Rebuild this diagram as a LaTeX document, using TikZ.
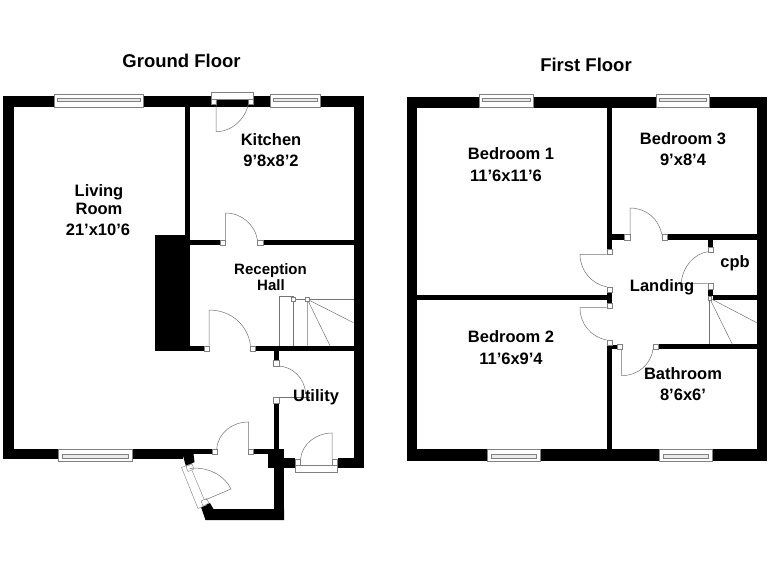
\documentclass[tikz,border=0pt]{standalone}
\usepackage{fontspec}
\setmainfont{Liberation Sans}
\tikzset{
  wall/.style={fill=black},
  leaf/.style={draw=black!55,line width=.5pt},
  jamb/.style={draw=black!50,fill=white,line width=.4pt},
  frame/.style={draw=black!50,fill=white,line width=.4pt},
  glass/.style={draw=black!50,fill=black!8,line width=.4pt},
  room/.style={font=\bfseries\fontsize{16.5}{18}\selectfont,inner sep=0pt,align=center},
  small/.style={font=\bfseries\fontsize{15}{17}\selectfont,inner sep=0pt,align=center},
  head/.style={font=\bfseries\fontsize{18.5}{20}\selectfont,inner sep=0pt}
}
\newcommand{\winTop}[2]{%
  \draw[frame] (#1,94.5) rectangle (#2,107.5);
  \draw[glass] (#1+3,98) rectangle (#2-3,101);}
\newcommand{\winBot}[2]{%
  \draw[frame] (#1,449.5) rectangle (#2,461.5);
  \draw[glass] (#1+4,454) rectangle (#2-4,458);}
\begin{document}
\begin{tikzpicture}[x=1pt,y=-1pt]
\useasboundingbox (0,0) rectangle (768,576);
\fill[white] (0,0) rectangle (768,576);
% ---------- ground floor walls
\fill[wall] (3,96) rectangle (364,107);
\fill[wall] (3,96) rectangle (13.5,459);
\fill[wall] (353.5,96) rectangle (364,468);
\fill[wall] (3,449) rectangle (183,459);
\fill[wall] (130,449) rectangle (212,454);
\fill[wall] (182.5,454) -- (193.5,454) -- (194.5,462) -- (186,466.5) -- cycle;
\fill[wall] (185,107) rectangle (190,350.7);
\fill[wall] (155,235.3) rectangle (190,350.7);
\fill[wall] (190,240) rectangle (220,245);
\fill[wall] (263,240) rectangle (353.5,245);
\fill[wall] (190,345.7) rectangle (204,350.7);
\fill[wall] (255,345.7) rectangle (353.5,350.7);
\fill[wall] (273.5,350.7) rectangle (279,360);
\fill[wall] (273.5,403) rectangle (279,449);
\fill[wall] (253,449) rectangle (268,454);
\fill[wall] (268,449) rectangle (284,468);
\fill[wall] (284,458) rectangle (295,468);
\fill[wall] (337.5,458) rectangle (364,468);
\fill[wall] (274,468) rectangle (284,520);
\fill[wall] (201,507) -- (210,503) -- (213.5,509) -- (284,509) -- (284,520) -- (205.5,520) -- cycle;
% ground windows
\winTop{54.5}{143}
\winTop{270}{320}
\winBot{58}{132}
% kitchen external door
\draw[frame] (211,92) rectangle (253,99);
\draw[jamb] (211,99) rectangle (216,104.5);
\draw[jamb] (248,99) rectangle (253,104.5);
\draw[leaf] (216,99) -- (216,131.7) .. controls (233,131.7) and (248,117) .. (249,99);
% kitchen / hall door
\draw[jamb] (220,240) rectangle (225.5,245);
\draw[jamb] (257.5,240) rectangle (263,245);
\draw[leaf] (225.5,240) -- (225.5,213) .. controls (242,213) and (255,225) .. (257.5,240);
% hall / living door
\draw[jamb] (204,345.7) rectangle (209,350.7);
\draw[jamb] (250.5,345.7) rectangle (255,350.7);
\draw[leaf] (209,345.7) -- (209,310) .. controls (231,310) and (248,325) .. (250.5,345.7);
% utility door
\draw[jamb] (273.5,360) rectangle (279,366);
\draw[jamb] (273.5,397.5) rectangle (279,403);
\draw[leaf] (279,397.5) -- (310,397.5);
\draw[leaf] (279,366) .. controls (293,367) and (304,378) .. (305.5,392);
% front door
\draw[jamb] (212,449) rectangle (216.7,454);
\draw[jamb] (248.5,449) rectangle (253,454);
\draw[leaf] (248.5,449) -- (248.5,422) .. controls (232,422) and (218,433) .. (216.7,449);
% utility external door
\draw[frame] (295,465.5) rectangle (337.5,472);
\draw[jamb] (295,459) rectangle (300.5,465.5);
\draw[jamb] (332,459) rectangle (337.5,465.5);
\draw[leaf] (332,459) -- (332,433) .. controls (316,433) and (302,444) .. (300.5,459);
% porch door
\draw[frame] (181.5,467.5) -- (189.5,464.5) -- (206.5,505) -- (198,508.5) -- cycle;
\draw[jamb] (186,466.5) -- (192,464) -- (194,469) -- (188,471.5) -- cycle;
\draw[jamb] (201,501) -- (206.5,498.5) -- (209,503) -- (203,506) -- cycle;
\draw[leaf] (205,500) -- (231,489) .. controls (225,476) and (208,466) .. (189.5,468.5);
% ground stairs
\draw[leaf] (279.3,345.7) -- (279.3,296) -- (293.3,296) -- (293.3,345.7);
\draw[leaf] (307.3,345.7) -- (307.3,299.3) -- (353.5,322.7);
\draw[leaf] (293.3,299.3) -- (353.5,299.3);
\draw[leaf] (307.3,299.3) -- (330,345.7);
\draw[jamb] (291.5,297.5) rectangle (295,301);
\draw[jamb] (305.5,297.5) rectangle (309,301);
% ---------- first floor walls
\fill[wall] (406.7,97.3) rectangle (767,107.7);
\fill[wall] (406.7,97.3) rectangle (417,460.7);
\fill[wall] (756.7,97.3) rectangle (767,460.7);
\fill[wall] (406.7,449.3) rectangle (767,460.7);
\fill[wall] (606.7,107.7) rectangle (612.3,249);
\fill[wall] (606.7,292) rectangle (612.3,302.7);
\fill[wall] (417,295) rectangle (612.3,300.3);
\fill[wall] (606.7,345) rectangle (612.3,449.3);
\fill[wall] (612.3,345) rectangle (617,349);
\fill[wall] (612.3,234.3) rectangle (624.3,240);
\fill[wall] (667,234.3) rectangle (756.7,240);
\fill[wall] (658,344.3) rectangle (756.7,349);
\fill[wall] (707.7,240) rectangle (713.3,246.7);
\fill[wall] (708,288.7) rectangle (713.3,296);
\fill[wall] (713.3,295) rectangle (756.7,300);
% first windows
\winTop{479}{533}
\winTop{655.7}{709}
\winBot{486.7}{540.5}
\winBot{659}{712.5}
% bed 3 door
\draw[jamb] (624.3,234.3) rectangle (630,240);
\draw[jamb] (661.7,234.3) rectangle (667,240);
\draw[leaf] (630,234.3) -- (630,208) .. controls (646,208) and (659,219) .. (661.7,234.3);
% bed 1 door
\draw[jamb] (606.7,249) rectangle (612.3,254.3);
\draw[jamb] (606.7,286.7) rectangle (612.3,292);
\draw[leaf] (606.7,254.3) -- (580,254.3) .. controls (580,270) and (591,284) .. (606.7,286.7);
% bed 2 door
\draw[jamb] (606.7,302.7) rectangle (612.3,307.7);
\draw[jamb] (606.7,340) rectangle (612.3,345);
\draw[leaf] (606.7,307.7) -- (580,307.7) .. controls (580,324) and (591,337) .. (606.7,340);
% bathroom door
\draw[jamb] (616.7,344.3) rectangle (621.7,349);
\draw[jamb] (653,344.3) rectangle (658,349);
\draw[leaf] (621.7,349) -- (621.7,375.7) .. controls (637,375.7) and (651,365) .. (653,349);
% cupboard door
\draw[jamb] (707.7,246.7) rectangle (713.3,251.7);
\draw[jamb] (707.7,283.3) rectangle (713.3,288.7);
\draw[leaf] (707.7,283.3) -- (681,283.3) .. controls (683,266) and (694,254) .. (707.7,251.7);
% first stairs
\draw[leaf] (709.5,344.3) -- (709.5,300);
\draw[leaf] (732.3,344.3) -- (709.5,298) -- (756.7,322.7);
\draw[jamb] (708,296) rectangle (711.5,300.5);
% ---------- texts
\node[head] (gf) at (181.5,61) {Ground Floor};
\node[head] (ff) at (586,65) {First Floor};
\node[room] (t1) at (99,192) {Living};
\node[room] (t2) at (99,209) {Room};
\node[room] (t3) at (98,230) {21'x10'6};
\node[room] (t4) at (271,139.5) {Kitchen};
\node[room] (t5) at (271,161) {9'8x8'2};
\node[small] (t6) at (270.5,270.5) {Reception};
\node[small] (t7) at (271,285.5) {Hall};
\node[room] (t8) at (316,397) {Utility};
\node[room] (t9) at (511,154) {Bedroom 1};
\node[room] (t10) at (506,176) {11'6x11'6};
\node[room] (t11) at (683,138.5) {Bedroom 3};
\node[room] (t12) at (683,160) {9'x8'4};
\node[room] (t13) at (511,337) {Bedroom 2};
\node[room] (t14) at (511,359) {11'6x9'4};
\node[room] (t15) at (683,373.5) {Bathroom};
\node[room] (t16) at (683,395) {8'6x6'};
\node[room] (t17) at (662,287) {Landing};
\node[room] (t18) at (735,263) {cpb};
\end{tikzpicture}
\end{document}
